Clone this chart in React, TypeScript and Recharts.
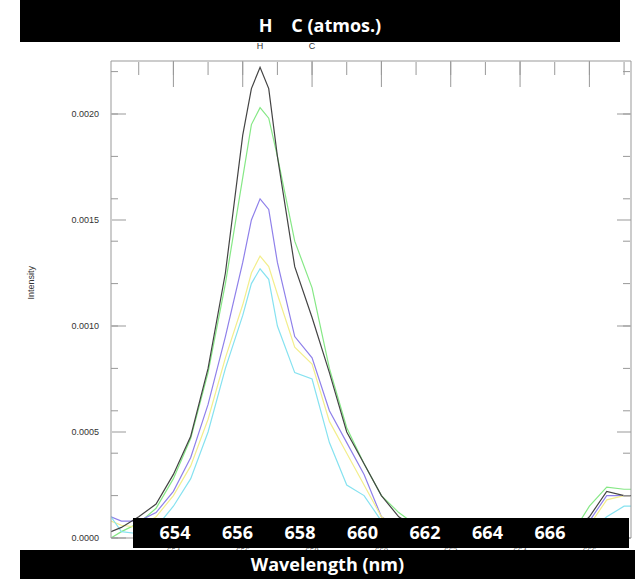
import { LineChart, Line, XAxis, YAxis } from 'recharts'

// ── data ────────────────────────────────────────────────────────────────────

const wavelength = [652.2, 652.5, 653, 653.5, 654, 654.5, 655, 655.5, 656, 656.25, 656.5, 656.75, 657, 657.5, 658, 658.5, 659, 659.5, 660, 660.5, 661, 661.5, 662, 663, 664, 665, 665.5, 666, 666.5, 667, 667.2]

const black = [0.00003, 0.00005, 0.0001, 0.00016, 0.0003, 0.00048, 0.0008, 0.00125, 0.0019, 0.00212, 0.00222, 0.00212, 0.0018, 0.00128, 0.00104, 0.00078, 0.0005, 0.00035, 0.0002, 0.0001, 0.00005, 0.00002, 0, 0, 0, 0, 0.00002, 0.0001, 0.00022, 0.0002, 0.0002]
const green = [0, 0.00003, 0.00007, 0.00014, 0.00028, 0.00047, 0.00078, 0.0012, 0.0017, 0.00195, 0.00203, 0.00198, 0.0018, 0.0014, 0.00118, 0.0008, 0.00052, 0.00035, 0.0002, 0.00012, 0.00006, 0.00002, 0, 0, 0, 0, 0.00002, 0.00015, 0.00024, 0.00023, 0.00023]
const purple = [0.0001, 0.00008, 0.00008, 0.00012, 0.00022, 0.00038, 0.00063, 0.00095, 0.0013, 0.0015, 0.0016, 0.00155, 0.0013, 0.00095, 0.00085, 0.0006, 0.00045, 0.0003, 0.0001, 0.00005, 0.00002, 0, 0, 0, 0, 0, 0, 0.00008, 0.0002, 0.0002, 0.0002]
const yellow = [0.00008, 0.00006, 0.00005, 0.0001, 0.0002, 0.00034, 0.00056, 0.00085, 0.0011, 0.00125, 0.00133, 0.00128, 0.00115, 0.0009, 0.00082, 0.00055, 0.0004, 0.00025, 0.0001, 0.00004, 0.00001, 0, 0, 0, 0, 0, 0, 0.00006, 0.00018, 0.0002, 0.0002]
const cyan = [0.0001, 0.00003, 0.00002, 0.00005, 0.00015, 0.00028, 0.0005, 0.0008, 0.00105, 0.0012, 0.00127, 0.00122, 0.001, 0.00078, 0.00075, 0.00045, 0.00025, 0.0002, 0.00008, 0.00002, 0, 0, 0, 0, 0, 0, 0, 0.00003, 0.0001, 0.00015, 0.00015]

const yTicks = [0, 0.0005, 0.001, 0.0015, 0.002]
const yMinor = [0, 0.0001, 0.0002, 0.0003, 0.0004, 0.0005, 0.0006, 0.0007, 0.0008, 0.0009, 0.001, 0.0011, 0.0012, 0.0013, 0.0014, 0.0015, 0.0016, 0.0017, 0.0018, 0.0019, 0.002, 0.0021, 0.0022]
const xMajor = [654, 656, 658, 660, 662, 664, 666]
const xMinor = [652.5, 653, 653.5, 654, 654.5, 655, 655.5, 656, 656.5, 657, 657.5, 658, 658.5, 659, 659.5, 660, 660.5, 661, 661.5, 662, 662.5, 663, 663.5, 664, 664.5, 665, 665.5, 666, 666.5, 667]
const lineMarks = [656.5, 658]
const lineNames = ['H', 'C']
const overlayLabels = ['654', '656', '658', '660', '662', '664', '666']

const series = [
  { key: 'green', values: green, color: '#86e886' },
  { key: 'purple', values: purple, color: '#8f80ea' },
  { key: 'yellow', values: yellow, color: '#f3ee8c' },
  { key: 'cyan', values: cyan, color: '#86e2f0' },
  { key: 'black', values: black, color: '#444444' },
]

const data = wavelength.map((w, i) => {
  const row: Record<string, number> = { w }
  series.forEach((s) => { row[s.key] = s.values[i] })
  return row
})

const X_DOMAIN: [number, number] = [652.2, 667.2]
const Y_DOMAIN: [number, number] = [0, 0.00225]
const axisStroke = '#999'
const font = "'Liberation Sans', Arial, sans-serif"
const noLabel = () => <g />
const lineTick = (p: any) => (
  <text x={p.x} y={p.y - 4} textAnchor="middle" fontSize={9} fill="#333" fontFamily={font}>
    {lineNames[lineMarks.indexOf(p.payload.value)]}
  </text>
)
const bar = { position: 'absolute' as const, background: '#000', color: '#fff', fontFamily: "'Open Sans', sans-serif", fontWeight: 700, fontSize: 18 }

export default function App() {
  return (
    <div style={{ position: 'fixed', left: 0, top: 0, width: 635, height: 579, background: '#fff' }}>
      <LineChart width={635} height={579} data={data} margin={{ top: 60, right: 4, left: 39, bottom: 19 }}>
        <XAxis xAxisId="b" dataKey="w" type="number" domain={X_DOMAIN} ticks={xMajor} allowDataOverflow
          stroke={axisStroke} tickLine={false} tick={{ fontSize: 9, fill: '#666', dy: 2 }} height={22} />
        <XAxis xAxisId="bt" dataKey="w" type="number" domain={X_DOMAIN} ticks={xMajor} allowDataOverflow
          stroke={axisStroke} mirror tickSize={14} tick={noLabel} axisLine={false} height={1} />
        <XAxis xAxisId="t" orientation="top" dataKey="w" type="number" domain={X_DOMAIN} ticks={xMajor} allowDataOverflow
          stroke={axisStroke} mirror tickSize={26} tick={noLabel} height={1} />
        <XAxis xAxisId="tm" orientation="top" dataKey="w" type="number" domain={X_DOMAIN} ticks={xMinor} allowDataOverflow
          stroke={axisStroke} mirror tickSize={13} tick={noLabel} axisLine={false} height={1} />
        <XAxis xAxisId="lines" orientation="top" dataKey="w" type="number" domain={X_DOMAIN} ticks={lineMarks} allowDataOverflow
          axisLine={false} tickLine={false} tick={lineTick} height={1} />
        <YAxis yAxisId="l" type="number" domain={Y_DOMAIN} ticks={yTicks} allowDataOverflow width={72}
          stroke={axisStroke} tickLine={false} tick={{ fontSize: 9, fill: '#333', fontFamily: font, dx: -4 }}
          tickFormatter={(v: number) => v.toFixed(4)}
          label={{ value: 'Intensity', angle: -90, position: 'insideLeft', offset: -8, style: { fontSize: 9, fill: '#333', fontFamily: font } }} />
        <YAxis yAxisId="lt" type="number" domain={Y_DOMAIN} ticks={yTicks} allowDataOverflow width={1}
          stroke={axisStroke} mirror tickSize={14} tick={noLabel} axisLine={false} />
        <YAxis yAxisId="lm" type="number" domain={Y_DOMAIN} ticks={yMinor} allowDataOverflow width={1}
          stroke={axisStroke} mirror tickSize={7} tick={noLabel} axisLine={false} />
        <YAxis yAxisId="r" orientation="right" type="number" domain={Y_DOMAIN} ticks={yTicks} allowDataOverflow width={1}
          stroke={axisStroke} mirror tickSize={14} tick={noLabel} />
        <YAxis yAxisId="rm" orientation="right" type="number" domain={Y_DOMAIN} ticks={yMinor} allowDataOverflow width={1}
          stroke={axisStroke} mirror tickSize={7} tick={noLabel} axisLine={false} />
        {series.map((s) => (
          <Line key={s.key} xAxisId="b" yAxisId="l" dataKey={s.key} stroke={s.color} strokeWidth={1.2}
            dot={false} isAnimationActive={false} />
        ))}
      </LineChart>
      <div style={{ ...bar, left: 20, top: 0, width: 600, height: 42, lineHeight: '50px', textAlign: 'center', whiteSpace: 'pre' }}>
        {'H    C (atmos.)'}
      </div>
      <div style={{ ...bar, left: 133, top: 518, width: 496, height: 30 }}>
        {overlayLabels.map((t, i) => (
          <span key={t} style={{ position: 'absolute', left: 42 + i * 62.5 - 20, width: 40, textAlign: 'center', top: 2 }}>{t}</span>
        ))}
      </div>
      <div style={{ ...bar, left: 20, top: 550, width: 615, height: 29, lineHeight: '29px', textAlign: 'center' }}>
        Wavelength (nm)
      </div>
    </div>
  )
}
